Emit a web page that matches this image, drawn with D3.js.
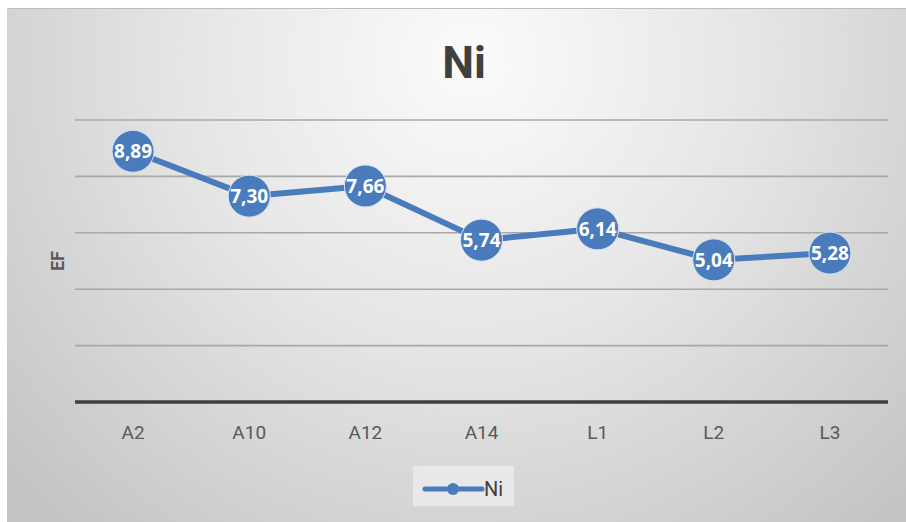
<!DOCTYPE html>
<html>
<head>
<meta charset="utf-8">
<script src="https://cdn.jsdelivr.net/npm/d3@7"></script>
<style>
  html, body { margin: 0; padding: 0; background: #ffffff; }
  svg { display: block; }
</style>
</head>
<body>
<svg id="chart" width="906" height="522"></svg>
<script>
// Enrichment factor of Ni per sampling site
const categories = ["A2", "A10", "A12", "A14", "L1", "L2", "L3"];
const niValues = [8.89, 7.30, 7.66, 5.74, 6.14, 5.04, 5.28];
const yTicks = [0, 2, 4, 6, 8, 10];
const seriesName = "Ni";
const chartTitle = "Ni";
const yTitle = "EF";

const W = 906, H = 522;
const margin = { left: 75, right: 18, top: 120, bottom: 120 };
const plotRight = W - margin.right;
const plotBottom = H - margin.bottom;

const blue = "#4a7cbd";
const labelFont = "Roboto, 'Noto Sans', sans-serif";
const svg = d3.select("#chart");

// Radial gray background of the chart frame
const defs = svg.append("defs");
const grad = defs.append("radialGradient")
  .attr("id", "bg")
  .attr("gradientUnits", "userSpaceOnUse")
  .attr("cx", 470).attr("cy", 60).attr("r", 620)
  .attr("fx", 470).attr("fy", 60);
grad.append("stop").attr("offset", "0%").attr("stop-color", "#fbfbfb");
grad.append("stop").attr("offset", "45%").attr("stop-color", "#e6e6e6");
grad.append("stop").attr("offset", "100%").attr("stop-color", "#c4c4c4");

svg.append("rect").attr("x", 7).attr("y", 8).attr("width", W - 7).attr("height", H - 8)
  .attr("fill", "url(#bg)");
svg.append("line").attr("x1", 7).attr("x2", W).attr("y1", 8.5).attr("y2", 8.5)
  .attr("stroke", "#bdbdbd").attr("stroke-width", 1);

// Scales
const x = d3.scaleBand().domain(categories).range([margin.left, plotRight]);
const y = d3.scaleLinear().domain([0, 10]).range([plotBottom, margin.top]);

// Horizontal gridlines
svg.append("g").selectAll("line")
  .data(yTicks.filter(d => d > 0))
  .join("line")
  .attr("x1", margin.left).attr("x2", plotRight)
  .attr("y1", d => y(d)).attr("y2", d => y(d))
  .attr("stroke", "#a8a8a8").attr("stroke-width", 1.6);

// Category axis
const xAxis = svg.append("g")
  .attr("transform", `translate(0,${plotBottom})`)
  .call(d3.axisBottom(x).tickSize(0).tickPadding(24));
xAxis.select(".domain").attr("stroke", "#3f3f3f").attr("stroke-width", 3.5)
  .attr("d", `M${margin.left},0H${plotRight}`);
xAxis.selectAll("text")
  .attr("fill", "#595959")
  .style("font-family", labelFont)
  .style("font-size", "19px");

// Axis title
svg.append("text")
  .attr("transform", `translate(64,${(margin.top + plotBottom) / 2}) rotate(-90)`)
  .attr("text-anchor", "middle")
  .attr("fill", "#595959")
  .style("font-family", labelFont)
  .style("font-weight", "bold")
  .style("font-size", "18px")
  .text(yTitle);

// Chart title
svg.append("text")
  .attr("x", 464).attr("y", 78)
  .attr("text-anchor", "middle")
  .attr("fill", "#404040")
  .style("font-family", labelFont)
  .style("font-weight", "bold")
  .style("font-size", "45px")
  .text(chartTitle);

// Series line
const cx = d => x(d.cat) + x.bandwidth() / 2;
const data = categories.map((c, i) => ({ cat: c, v: niValues[i] }));
svg.append("path")
  .datum(data)
  .attr("fill", "none")
  .attr("stroke", blue)
  .attr("stroke-width", 6)
  .attr("stroke-linejoin", "round")
  .attr("d", d3.line().x(cx).y(d => y(d.v)));

// Markers
svg.append("g").selectAll("circle")
  .data(data)
  .join("circle")
  .attr("cx", cx).attr("cy", d => y(d.v)).attr("r", 21)
  .attr("fill", blue)
  .attr("stroke", "#d6e1ef").attr("stroke-width", 1);

// Value labels
const fmt = v => v.toFixed(2).replace(".", ",");
svg.append("g").selectAll("text")
  .data(data)
  .join("text")
  .attr("x", cx).attr("y", d => y(d.v))
  .attr("dy", "0.36em")
  .attr("text-anchor", "middle")
  .attr("fill", "#ffffff")
  .style("font-family", "'Open Sans', sans-serif")
  .style("font-weight", "bold")
  .style("font-size", "19px")
  .text(d => fmt(d.v));

// Legend
const lg = svg.append("g").attr("transform", "translate(413,466)");
lg.append("rect").attr("width", 101).attr("height", 40).attr("fill", "#ececec").attr("opacity", 0.8);
lg.append("line").attr("x1", 12).attr("x2", 69).attr("y1", 23).attr("y2", 23)
  .attr("stroke", blue).attr("stroke-width", 5).attr("stroke-linecap", "round");
lg.append("circle").attr("cx", 40).attr("cy", 23).attr("r", 6).attr("fill", blue);
lg.append("text").attr("x", 71).attr("y", 30)
  .attr("fill", "#404040")
  .style("font-family", labelFont)
  .style("font-size", "20px")
  .text(seriesName);
</script>
</body>
</html>
